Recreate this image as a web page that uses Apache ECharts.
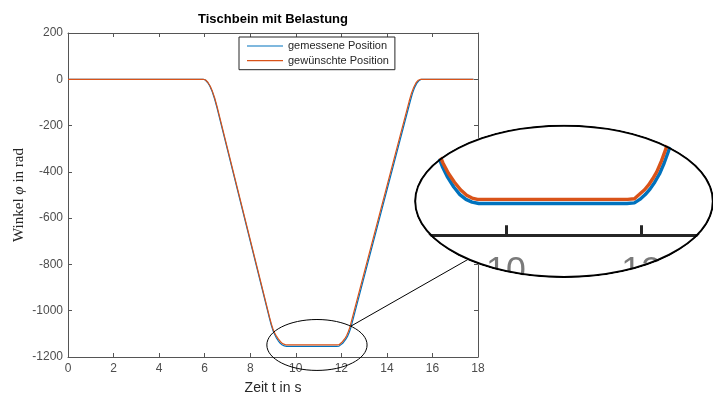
<!DOCTYPE html>
<html>
<head>
<meta charset="utf-8">
<script src="https://cdn.jsdelivr.net/npm/echarts@6/dist/echarts.min.js"></script>
<style>
  html, body { margin: 0; padding: 0; background: #fff; }
  #wrap { position: relative; width: 713px; height: 394px; overflow: hidden; }
  #main, #lens { position: absolute; left: 0; top: 0; width: 713px; height: 394px; }
  #lens { pointer-events: none; background: #fff; }
</style>
</head>
<body>
<div id="wrap">
  <div id="main"></div>
  <div id="lens"></div>
</div>
<script>
// Measured joint angle (blue) and commanded trajectory (orange), time in s, angle in rad
const TIME_MEASURED = [0, 5.93, 6.03, 6.13, 6.23, 6.33, 6.43, 6.54,
  8.84, 8.92, 8.99, 9.06, 9.14, 9.23, 9.32, 9.41, 9.5, 9.6,
  11.79, 11.9, 11.98, 12.06, 12.13, 12.2, 12.27, 12.34, 12.41,
  15.02, 15.12, 15.22, 15.32, 15.42, 15.52, 17.8];
const POS_MEASURED = [0, 0, -3, -14, -30, -53, -83, -122,
  -1031, -1061, -1083, -1100, -1116, -1130, -1141, -1148, -1152, -1154,
  -1154, -1153, -1148, -1141, -1133, -1123, -1111, -1095, -1076,
  -97, -62, -35, -16, -5, 0, 0];

const TIME_DESIRED = [0, 5.94, 6.04, 6.14, 6.24, 6.34, 6.44, 6.55,
  8.85, 8.93, 9.0, 9.07, 9.15, 9.24, 9.33, 9.42, 9.5, 9.58,
  11.8, 11.9, 11.97, 12.05, 12.11, 12.17, 12.23, 12.3, 12.37,
  14.98, 15.08, 15.18, 15.28, 15.38, 15.48, 17.8];
const POS_DESIRED = [0, 0, -3, -13, -29, -52, -81, -120,
  -1029, -1058, -1079, -1095, -1110, -1123, -1134, -1142, -1146, -1148,
  -1148, -1147, -1141, -1134, -1127, -1118, -1108, -1092, -1073,
  -94, -60, -34, -15, -4, 0, 0];

const SERIES_NAMES = ['gemessene Position', 'gewünschte Position'];
const SERIES_COLORS = ['#0072BD', '#D95319'];
const X_RANGE = { min: 0, max: 18, step: 2 };
const Y_RANGE = { min: -1200, max: 200, step: 200 };
const TITLE = 'Tischbein mit Belastung';
const X_NAME = 'Zeit t in s';

// Plot box and magnifier settings
const GRID = { left: 68, top: 33, width: 410, height: 324 };
const LENS = { t: 10.93, v: -1148, rt: 2.2, rv: 110 };   // lens centre and radii in data units
const MAG = 2.97;
const INSET_CENTER = [564, 201.3];
const INSET_SHIFT = [4.8, -1.9];

const SANS = "'Liberation Sans', Arial, Helvetica, sans-serif";
const SERIF = "'Liberation Serif', 'Times New Roman', serif";
const AXIS_COLOR = '#555';
const plainNumber = v => String(v);

const zip = (ts, vs) => ts.map((t, i) => [t, vs[i]]);
const measured = zip(TIME_MEASURED, POS_MEASURED);
const desired = zip(TIME_DESIRED, POS_DESIRED);

function lineSeries(width) {
  return [
    { name: SERIES_NAMES[0], type: 'line', data: measured, showSymbol: false, symbol: 'none',
      lineStyle: { color: SERIES_COLORS[0], width: width }, itemStyle: { color: SERIES_COLORS[0] } },
    { name: SERIES_NAMES[1], type: 'line', data: desired, showSymbol: false, symbol: 'none',
      lineStyle: { color: SERIES_COLORS[1], width: width }, itemStyle: { color: SERIES_COLORS[1] } }
  ];
}

function boxAxis(range, position, withLabels, extra) {
  const ls = { color: AXIS_COLOR, width: 1 };
  return Object.assign({
    type: 'value', min: range.min, max: range.max, interval: range.step, position: position,
    nameMoveOverlap: false,
    axisLine: { show: true, onZero: false, lineStyle: ls },
    axisTick: { show: true, inside: true, length: 4, lineStyle: ls },
    axisLabel: { show: withLabels, margin: position === 'bottom' ? 6 : 5, color: '#4d4d4d',
      fontSize: 12, fontFamily: SANS, formatter: plainNumber },
    splitLine: { show: false }
  }, extra || {});
}

const main = echarts.init(document.getElementById('main'));
main.setOption({
  animation: false,
  backgroundColor: '#fff',
  grid: { left: GRID.left, top: GRID.top, width: GRID.width, height: GRID.height,
    containLabel: false, outerBoundsMode: 'none' },
  legend: {
    data: SERIES_NAMES, orient: 'vertical', left: 239, top: 37,
    padding: [3, 6, 3, 8], itemGap: 2.7, itemWidth: 36, itemHeight: 1.2, icon: 'rect',
    backgroundColor: '#fff', borderColor: '#262626', borderWidth: 1, borderRadius: 0,
    selectedMode: false,
    textStyle: { fontSize: 11, lineHeight: 12, color: '#262626', fontFamily: SANS }
  },
  xAxis: [
    boxAxis(X_RANGE, 'bottom', true, {
      name: X_NAME, nameLocation: 'middle', nameGap: 24,
      nameTextStyle: { fontSize: 14, color: '#262626', fontFamily: SANS }
    }),
    boxAxis(X_RANGE, 'top', false)
  ],
  yAxis: [
    boxAxis(Y_RANGE, 'left', true, {
      name: '{a|Winkel }{b|φ}{a| in rad}', nameLocation: 'middle', nameGap: 41,
      nameTextStyle: {
        rich: {
          a: { fontFamily: SERIF, fontSize: 15, color: '#262626' },
          b: { fontFamily: SERIF, fontSize: 15, fontStyle: 'italic', color: '#262626' }
        }
      }
    }),
    boxAxis(Y_RANGE, 'right', false)
  ],
  series: lineSeries(1.2)
});

// Lens geometry in pixels
const finder = { xAxisIndex: 0, yAxisIndex: 0 };
const lensC = main.convertToPixel(finder, [LENS.t, LENS.v]);
const lensE = main.convertToPixel(finder, [LENS.t + LENS.rt, LENS.v + LENS.rv]);
const lensRx = Math.abs(lensE[0] - lensC[0]);
const lensRy = Math.abs(lensE[1] - lensC[1]);
const insetRx = lensRx * MAG;
const insetRy = lensRy * MAG;

// Connector from the lens to the magnified view
const a1 = -47.5 * Math.PI / 180, a2 = 130 * Math.PI / 180;
const p1 = [lensC[0] + lensRx * Math.cos(a1), lensC[1] + lensRy * Math.sin(a1)];
const p2 = [INSET_CENTER[0] + insetRx * Math.cos(a2), INSET_CENTER[1] + insetRy * Math.sin(a2)];
const titleX = main.convertToPixel(finder, [(X_RANGE.min + X_RANGE.max) / 2, 0])[0];

main.setOption({
  graphic: [
    { type: 'text', x: titleX, y: 19.3, z: 10,
      style: { text: TITLE, font: 'bold 13px ' + SANS, fill: '#000', align: 'center', verticalAlign: 'middle' } },
    { type: 'ellipse', shape: { cx: lensC[0], cy: lensC[1], rx: lensRx, ry: lensRy }, z: 10,
      style: { fill: 'none', stroke: '#000', lineWidth: 1 } },
    { type: 'line', shape: { x1: p1[0], y1: p1[1], x2: p2[0], y2: p2[1] }, z: 10,
      style: { stroke: '#000', lineWidth: 1 } }
  ]
});

// Magnified view: same plot scaled by MAG, clipped to an ellipse
const off = [INSET_CENTER[0] + INSET_SHIFT[0] - MAG * lensC[0],
             INSET_CENTER[1] + INSET_SHIFT[1] - MAG * lensC[1]];
const lensDiv = document.getElementById('lens');
lensDiv.style.clipPath = 'ellipse(' + (insetRx + 1.3) + 'px ' + (insetRy + 1.3) + 'px at ' +
  INSET_CENTER[0] + 'px ' + INSET_CENTER[1] + 'px)';

const inset = echarts.init(lensDiv);
inset.setOption({
  animation: false,
  backgroundColor: '#fff',
  grid: {
    left: MAG * GRID.left + off[0], top: MAG * GRID.top + off[1],
    width: MAG * GRID.width, height: MAG * GRID.height,
    containLabel: false, outerBoundsMode: 'none'
  },
  xAxis: {
    type: 'value', min: X_RANGE.min, max: X_RANGE.max, interval: X_RANGE.step,
    axisLine: { show: true, onZero: false, lineStyle: { color: '#262626', width: 3 } },
    axisTick: { show: true, inside: true, length: 10, lineStyle: { color: '#262626', width: 3 } },
    axisLabel: { show: true, margin: 6 * MAG, color: '#7a7a7a', fontSize: 12 * MAG, fontFamily: SANS,
      formatter: plainNumber },
    splitLine: { show: false }
  },
  yAxis: { type: 'value', min: Y_RANGE.min, max: Y_RANGE.max, interval: Y_RANGE.step, show: false },
  series: lineSeries(3.4),
  graphic: [
    { type: 'ellipse', shape: { cx: INSET_CENTER[0], cy: INSET_CENTER[1], rx: insetRx, ry: insetRy }, z: 10,
      style: { fill: 'none', stroke: '#000', lineWidth: 2 } }
  ]
});
</script>
</body>
</html>
